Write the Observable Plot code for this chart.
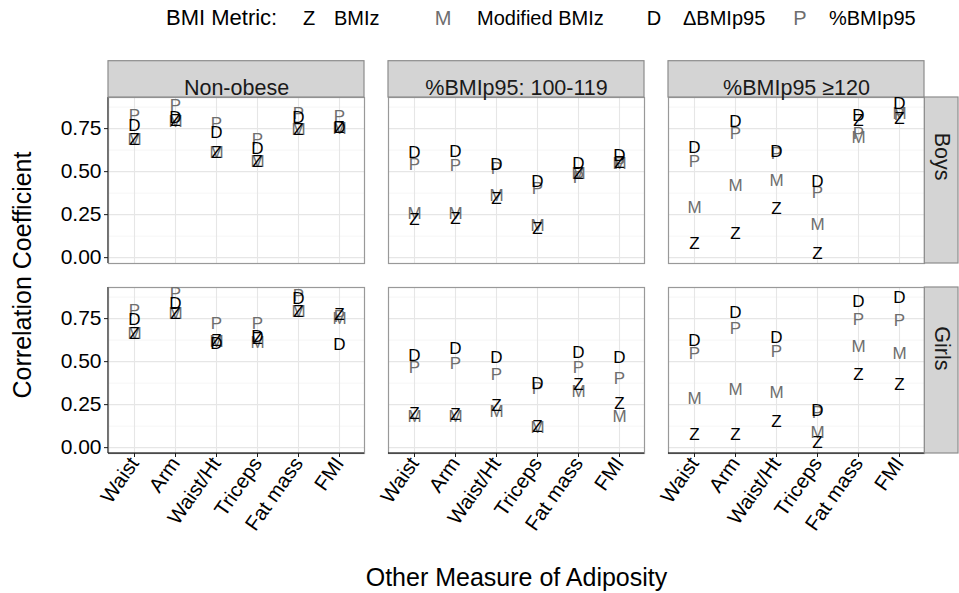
<!DOCTYPE html>
<html><head><meta charset="utf-8">
<script src="https://cdn.jsdelivr.net/npm/d3@7"></script>
<script src="https://cdn.jsdelivr.net/npm/@observablehq/plot@0.6"></script>
<style>
body{margin:0;background:#fff;font-family:"Liberation Sans",Arial,Helvetica,sans-serif;}
#wrap{position:relative;width:959px;height:593px;overflow:hidden;background:#fff;}
#chart{position:absolute;left:0;top:40px;}
.lg{position:absolute;top:6px;line-height:24px;font-size:20px;white-space:nowrap;color:#000;}
#xtitle{position:absolute;top:562px;left:0;width:1033px;text-align:center;font-size:25px;line-height:30px;}
#ytitle{position:absolute;left:22px;top:275px;font-size:25px;line-height:30px;white-space:nowrap;transform:translate(-50%,-50%) rotate(-90deg);}
svg text{font-family:"Liberation Sans",Arial,Helvetica,sans-serif;}
</style></head><body>
<div id="wrap">
  <div id="legend"></div>
  <div id="chart"></div>
  <div id="xtitle">Other Measure of Adiposity</div>
  <div id="ytitle">Correlation Coefficient</div>
</div>
<script>
// ---- data ----
const metrics = ["Z", "M", "D", "P"];
const metricLabels = ["BMIz", "Modified BMIz", "ΔBMIp95", "%BMIp95"];
const metricColors = ["#000000", "#6e6e6e", "#000000", "#6e6e6e"];
const measures = ["Waist", "Arm", "Waist/Ht", "Triceps", "Fat mass", "FMI"];
const groups = ["Non-obese", "%BMIp95: 100-119", "%BMIp95 ≥120"];
const sexes = ["Boys", "Girls"];
const yTicks = [0, 0.25, 0.5, 0.75];
const yMinorTicks = [0.125, 0.375, 0.625, 0.875];

// values in order: Boys (Non-obese, 100-119, ≥120), Girls (Non-obese, 100-119, ≥120); each 6 measures
const zValues = [
  0.685, 0.795, 0.61, 0.56, 0.745, 0.755,
  0.22, 0.23, 0.342, 0.168, 0.491, 0.55,
  0.081, 0.139, 0.284, 0.023, 0.796, 0.806,
  0.665, 0.781, 0.622, 0.632, 0.792, 0.775,
  0.197, 0.191, 0.245, 0.12, 0.367, 0.255,
  0.077, 0.077, 0.149, 0.029, 0.423, 0.365
];
const mValues = [
  0.685, 0.79, 0.61, 0.56, 0.745, 0.75,
  0.259, 0.259, 0.361, 0.187, 0.487, 0.545,
  0.29, 0.419, 0.448, 0.193, 0.70, 0.835,
  0.665, 0.781, 0.615, 0.613, 0.792, 0.75,
  0.182, 0.178, 0.211, 0.115, 0.327, 0.182,
  0.284, 0.336, 0.323, 0.09, 0.589, 0.545
];
const dValues = [
  0.767, 0.815, 0.73, 0.632, 0.815, 0.758,
  0.613, 0.617, 0.541, 0.444, 0.549, 0.593,
  0.642, 0.79, 0.617, 0.444, 0.825, 0.893,
  0.742, 0.839, 0.607, 0.646, 0.864, 0.599,
  0.535, 0.578, 0.522, 0.375, 0.551, 0.522,
  0.622, 0.787, 0.642, 0.216, 0.85, 0.87
];
const pValues = [
  0.825, 0.883, 0.78, 0.685, 0.835, 0.82,
  0.541, 0.535, 0.516, 0.40, 0.464, 0.548,
  0.559, 0.719, 0.603, 0.381, 0.723, 0.83,
  0.796, 0.897, 0.723, 0.719, 0.883, 0.76,
  0.464, 0.491, 0.425, 0.345, 0.464, 0.40,
  0.549, 0.694, 0.559, 0.203, 0.742, 0.738
];

// ---- build table ----
const valueSets = {Z: zValues, M: mValues, D: dValues, P: pValues};
const drawOrder = ["P", "M", "Z", "D"];
const rows = [];
for (const m of drawOrder) {
  let i = 0;
  for (const s of sexes) for (const g of groups) for (const ms of measures)
    rows.push({metric: m, sex: s, group: g, measure: ms, value: valueSets[m][i++]});
}
const panels = [];
for (const s of sexes) for (const g of groups) panels.push({sex: s, group: g});
const topStrips = panels.filter(d => d.sex === sexes[0]);
const rightStrips = panels.filter(d => d.group === groups[groups.length - 1]);
const leftPanels = panels.filter(d => d.group === groups[0]);
const bottomPanels = panels.filter(d => d.sex === sexes[sexes.length - 1]);

// ---- layout ----
const W = 959, H = 553;
const mL = 108, mR = 34, mT = 57, mB = 140;
const gap = 24;
const bw = (W - mL - mR - 2 * gap) / 3;
const bh = (H - mT - mB - gap) / 2;
const stripH = 36.3, stripW = 34;

const chart = Plot.plot({
  width: W, height: H,
  marginLeft: mL, marginRight: mR, marginTop: mT, marginBottom: mB,
  style: {fontFamily: '"Liberation Sans", Arial, Helvetica, sans-serif', background: "#fff"},
  fx: {domain: groups, paddingInner: gap / (bw + gap), paddingOuter: 0, axis: null},
  fy: {domain: sexes, paddingInner: gap / (bh + gap), paddingOuter: 0, axis: null},
  x: {type: "point", domain: measures, padding: 0.6, label: null},
  y: {domain: [-0.034, 0.931], label: null},
  color: {domain: metrics, range: metricColors},
  marks: [
    Plot.gridY(yMinorTicks, {stroke: "#f2f2f2", strokeOpacity: 1, strokeWidth: 0.8}),
    Plot.gridY(yTicks, {stroke: "#e6e6e6", strokeOpacity: 1, strokeWidth: 1.1}),
    Plot.gridX(measures, {stroke: "#e6e6e6", strokeOpacity: 1, strokeWidth: 1.1}),
    Plot.frame({stroke: "#999999", strokeWidth: 1.2}),
    Plot.rect(leftPanels, {fx: "group", fy: "sex", fill: "#1a1a1a", insetLeft: -0.6, insetRight: bw - 0.6}),
    Plot.rect(bottomPanels, {fx: "group", fy: "sex", fill: "#1a1a1a", insetTop: bh - 0.6, insetBottom: -0.6}),
    Plot.rect(topStrips, {fx: "group", fy: "sex", fill: "#d4d4d4", stroke: "#8c8c8c", strokeWidth: 1.2, insetTop: -stripH, insetBottom: bh}),
    Plot.text(topStrips, {fx: "group", fy: "sex", text: "group", frameAnchor: "top", dy: -stripH / 2, fontSize: 21.5, fill: "#1a1a1a"}),
    Plot.rect(rightStrips, {fx: "group", fy: "sex", fill: "#d4d4d4", stroke: "#8c8c8c", strokeWidth: 1.2, insetLeft: bw, insetRight: -stripW}),
    Plot.text(rightStrips, {fx: "group", fy: "sex", text: "sex", frameAnchor: "right", dx: stripW / 2, rotate: 90, fontSize: 21.5, fill: "#1a1a1a"}),
    Plot.axisY(yTicks, {tickFormat: d3.format(".2f"), tickSize: 4, tickPadding: 3, fontSize: 21, label: null, stroke: "#1a1a1a", fill: "#000"}),
    Plot.axisX({tickRotate: -55, tickSize: 4, tickPadding: 2, fontSize: 20.5, label: null, stroke: "#1a1a1a", fill: "#000"}),
    Plot.text(rows, {fx: "group", fy: "sex", x: "measure", y: "value", text: "metric", fill: "metric", fontSize: 17})
  ]
});
document.getElementById("chart").appendChild(chart);

// ---- legend ----
const legend = document.getElementById("legend");
const addLg = (txt, left, opts = {}) => {
  const el = document.createElement("div");
  el.className = "lg";
  el.textContent = txt;
  el.style.left = left + "px";
  if (opts.color) el.style.color = opts.color;
  if (opts.size) el.style.fontSize = opts.size + "px";
  if (opts.center) el.style.transform = "translateX(-50%)";
  legend.appendChild(el);
};
addLg("BMI Metric:", 166, {size: 22});
const keyCenters = [309, 443, 654, 800];
const labelLefts = [334, 477, 683, 829];
metrics.forEach((m, i) => {
  addLg(m, keyCenters[i], {color: metricColors[i], center: true});
  addLg(metricLabels[i], labelLefts[i]);
});
</script>
</body></html>
